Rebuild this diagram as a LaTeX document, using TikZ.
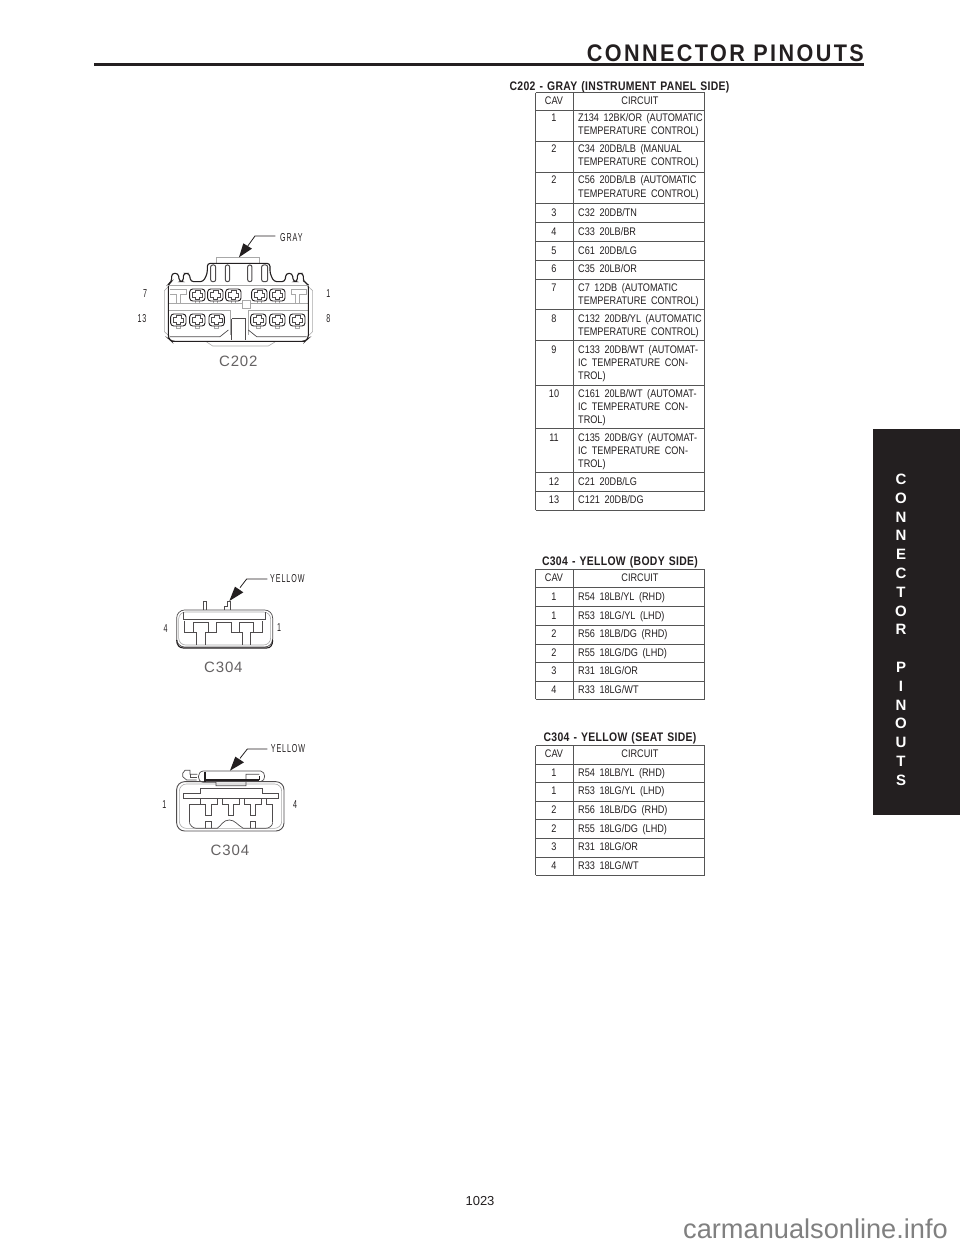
\documentclass[tikz,border=0pt]{standalone}
\usepackage{fontspec}
\setmainfont{Liberation Sans}
\newfontfamily\tblfont[FakeStretch=0.83,WordSpace=1.8]{Liberation Sans}
\newfontfamily\ttlfont[FakeStretch=0.84,LetterSpace=2.5,WordSpace=1.3]{Liberation Sans}
\newfontfamily\lblfont[FakeStretch=0.62,LetterSpace=8]{Liberation Sans}
\newfontfamily\capfont[LetterSpace=6]{Liberation Sans}
\newfontfamily\headfont[FakeStretch=0.9,LetterSpace=10]{Liberation Sans}
\definecolor{ink}{HTML}{231F20}
\definecolor{soft}{HTML}{555555}
\definecolor{pale}{HTML}{A8A8A8}
\tikzset{
 tline/.style={draw=soft,line width=0.9pt},
 ttext/.style={inner sep=0pt,anchor=base west,text=ink,font=\tblfont\fontsize{11}{12}\selectfont},
 tcav/.style={inner sep=0pt,anchor=base,text=ink,font=\tblfont\fontsize{11}{12}\selectfont},
 ttitle/.style={inner sep=0pt,anchor=base,text=ink,font=\ttlfont\bfseries\fontsize{12.4}{14}\selectfont},
 pinlabel/.style={inner sep=0pt,text=ink,font=\lblfont\fontsize{11.5}{12}\selectfont},
 connname/.style={inner sep=0pt,text=ink!70,font=\capfont\fontsize{15}{18}\selectfont},
 tabletter/.style={inner sep=0pt,text=white,font=\bfseries\fontsize{15}{18}\selectfont},
 draft/.style={draw=ink!80,line width=0.7pt},
 heavy/.style={draw=ink,line width=1.1pt},
 light/.style={draw=pale,line width=0.6pt},
 leader/.style={draw=ink,line width=0.8pt},
 tip/.style={fill=ink,draw=none},
 terminal/.pic={
  \draw[draw=pale,line width=0.6pt] (-6,18)--(-6,26)--(6,26)--(6,18);
  \draw[draw=ink,line width=0.9pt,rounded corners=3pt] (-23,-18) rectangle (23,18);
  \draw[draw=ink!80,line width=0.6pt] (-15,8)--(-15,-8)--(-6,-8)--(-6,-13)--(8,-13)--(8,-6)--(16,-6)--(16,8)--(5,8)--(5,13)--(-6,13)--(-6,8)--cycle;
 }
}
\begin{document}
\begin{tikzpicture}[x=1pt,y=-1pt]
\useasboundingbox (0,0) rectangle (960,1242);
\fill[white] (0,0) rectangle (960,1242);
% header
\node[inner sep=0pt,anchor=base east,text=ink,font=\headfont\bfseries\fontsize{24}{26}\selectfont] (head) at (864,61) {CONNECTOR PINOUTS};
\fill[ink] (94,63) rectangle (864,66);
% side tab
\fill[ink] (872.5,428.5) rectangle (960,815);
\foreach \l/\y/\n in {C/479/a,O/498/b,N/517/c,N/535.5/d,E/554/e,C/573/f,T/592/g,O/611/h,R/629.5/i,P/667/j,I/686/k,N/705/l,O/723/m,U/742/n,T/761/o,S/780/p}
  \node[tabletter] (tab\n) at (901,\y) {\l};
% table 1
\node[ttitle] (t1title) at (619.5,90) {C202 - GRAY (INSTRUMENT PANEL SIDE)};
\foreach \y in {92.5,110,141,172.5,203.5,222.5,241,260,279,309.5,340.5,385,428.7,472.7,491.7,510}
  \draw[tline] (535.5,\y) -- (704.5,\y);
\foreach \x in {535.5,573,704.5} \draw[tline] (\x,92.5) -- (\x,510);
\node[tcav] (h1a) at (554,104) {CAV};
\node[tcav] (h1b) at (640,104) {CIRCUIT};
\foreach \c/\y/\n in {1/121/a,2/152.5/b,2/183.5/c,3/216.5/d,4/235/e,5/254/f,6/272.5/g,7/291/h,8/322/i,9/353/j,10/397/k,11/441/l,12/485/m,13/503.5/n}
  \node[tcav] (c1\n) at (554,\y) {\c};
\foreach \y/\s/\n in {
 121/{Z134 12BK/OR (AUTOMATIC}/a,134.5/{TEMPERATURE CONTROL)}/b,
 152.5/{C34 20DB/LB (MANUAL}/c,165.5/{TEMPERATURE CONTROL)}/d,
 183.5/{C56 20DB/LB (AUTOMATIC}/e,197/{TEMPERATURE CONTROL)}/f,
 216.5/{C32 20DB/TN}/g,235/{C33 20LB/BR}/h,254/{C61 20DB/LG}/i,272.5/{C35 20LB/OR}/j,
 291/{C7 12DB (AUTOMATIC}/k,304/{TEMPERATURE CONTROL)}/l,
 322/{C132 20DB/YL (AUTOMATIC}/m,335/{TEMPERATURE CONTROL)}/n,
 353/{C133 20DB/WT (AUTOMAT-}/o,366/{IC TEMPERATURE CON-}/p,379/{TROL)}/q,
 397/{C161 20LB/WT (AUTOMAT-}/r,410/{IC TEMPERATURE CON-}/s,423/{TROL)}/t,
 441/{C135 20DB/GY (AUTOMAT-}/u,454/{IC TEMPERATURE CON-}/v,467/{TROL)}/w,
 485/{C21 20DB/LG}/x,503.5/{C121 20DB/DG}/y}
  \node[ttext] (s1\n) at (578,\y) {\s};
% table 2
\node[ttitle] (t2title) at (620,565) {C304 - YELLOW (BODY SIDE)};
\foreach \y in {569.3,587.3,606,625,644,662.7,681.3,699}
  \draw[tline] (535.5,\y) -- (704.5,\y);
\foreach \x in {535.5,573,704.5} \draw[tline] (\x,569.3) -- (\x,699);
\node[tcav] (h2a) at (554,581) {CAV};
\node[tcav] (h2b) at (640,581) {CIRCUIT};
\foreach \c/\y/\s/\n in {1/600/{R54 18LB/YL (RHD)}/a,1/619/{R53 18LG/YL (LHD)}/b,2/637.5/{R56 18LB/DG (RHD)}/c,2/656/{R55 18LG/DG (LHD)}/d,3/674.5/{R31 18LG/OR}/e,4/693/{R33 18LG/WT}/f}{
  \node[tcav] (c2\n) at (554,\y) {\c};
  \node[ttext] (s2\n) at (578,\y) {\s};}
% table 3
\node[ttitle] (t3title) at (620,741) {C304 - YELLOW (SEAT SIDE)};
\foreach \y in {745.5,764,782,801,819.5,838,857,875}
  \draw[tline] (535.5,\y) -- (704.5,\y);
\foreach \x in {535.5,573,704.5} \draw[tline] (\x,745.5) -- (\x,875);
\node[tcav] (h3a) at (554,757) {CAV};
\node[tcav] (h3b) at (640,757) {CIRCUIT};
\foreach \c/\y/\s/\n in {1/776/{R54 18LB/YL (RHD)}/a,1/794.5/{R53 18LG/YL (LHD)}/b,2/813/{R56 18LB/DG (RHD)}/c,2/832/{R55 18LG/DG (LHD)}/d,3/850.5/{R31 18LG/OR}/e,4/869.5/{R33 18LG/WT}/f}{
  \node[tcav] (c3\n) at (554,\y) {\c};
  \node[ttext] (s3\n) at (578,\y) {\s};}
% C202
\begin{scope}[shift={(120,220)},x=0.3333pt,y=-0.3333pt]
 \draw[light] (145,200)--(133,212)--(133,335)--(148,348);
 \draw[light] (565,200)--(578,212)--(578,335)--(565,348);
 \draw[light] (290,130)--(290,112)--(418,112)--(418,130);
 \draw[light] (260,366)--(278,378)--(445,378)--(465,366);
 \draw[light] (145,250)--(365,250);\draw[light] (390,250)--(565,250);
 \draw[light] (145,270)--(330,270)--(330,345);\draw[light] (565,270)--(385,270)--(385,345);
 \draw[light] (366,240) rectangle (390,266);
 \draw[light] (150,208)--(198,208)--(198,222)--(182,222)--(182,250)--(170,250)--(170,222)--(150,222);
 \draw[light] (515,208)--(560,208)--(560,222)--(538,222)--(538,250)--(526,250)--(526,222)--(515,222)--cycle;
 \draw[heavy,rounded corners=3pt] (145,355)--(145,192)--(155,185)--(155,160)--(175,160)--(178,185)--(190,185)--(190,160)--(208,160)--(212,185)--(250,185)--(262,160)--(262,130)--(450,130)--(450,160)--(462,185)--(495,185)--(498,160)--(517,160)--(520,185)--(532,185)--(532,160)--(550,160)--(550,185)--(565,192)--(565,355)--(555,364)--(155,364)--cycle;
 \draw[draw=ink,line width=1.5pt] (155,365)--(555,365);
 \draw[draft] (150,350)--(300,350)--(325,330);
 \draw[draft] (560,350)--(410,350)--(385,330);
 \draw[light] (145,195)--(565,195);
 \foreach \x/\w in {272/15,316/13,383/13,425/18} \draw[draft,line width=1pt,rounded corners=2pt] (\x,185)--(\x,135)--(\x+\w,135)--(\x+\w,185)--cycle;
 \draw[draft] (335,296)--(375,296)--(375,360);\draw[draft] (335,296)--(335,360);
 \foreach \x/\n in {232/a,286/b,340/c,418/d,472/e} \pic (up\n) at (\x,225) {terminal};
 \foreach \x/\n in {175/a,232/b,290/c,415/d,472/e,532/f} \pic (lo\n) at (\x,300) {terminal};
 \node[pinlabel] (p7) at (75,220) {7};
 \node[pinlabel] (p1) at (625,220) {1};
 \node[pinlabel] (p13) at (66,295) {13};
 \node[pinlabel] (p8) at (625,297) {8};
 \node[pinlabel,anchor=west] (gray) at (480,52) {GRAY};
 \node[connname] (c202) at (355,423) {C202};
 \coordinate (graytip) at (357,112);
 \draw[leader] (gray.west)+(-14,-4) -- (405,48) -- (382,80);
 \fill[tip] (graytip)--(370,70)--(396,86)--cycle;
\end{scope}
% C304 body side
\begin{scope}[shift={(140,565)},x=0.3333pt,y=-0.3333pt]
 \draw[draft,rounded corners=8pt] (110,135) rectangle (398,246);
 \draw[heavy] (110,225)..controls (110,240) and (118,249)..(130,249)--(380,249)..controls (392,249) and (398,240)..(398,225);
 \draw[light,rounded corners=7pt] (116,141) rectangle (392,240);
 \draw[draft] (130,142)--(130,162)--(375,162)--(375,142);
 \draw[draft] (132,167)--(132,203)--(160,203)--(160,173)--(205,173)--(205,203)--(195,203)--(195,240);
 \draw[draft] (160,203)--(170,203)--(170,240);
 \draw[draft] (205,203)--(230,203)--(230,173)--(275,173)--(275,203)--(298,203)--(298,173)--(340,173)--(340,203)--(330,203)--(330,240);
 \draw[draft] (298,203)--(308,203)--(308,240);
 \draw[draft] (340,203)--(368,203)--(368,167);
 \draw[draft] (190,135)--(190,108)--(200,108)--(200,135);
 \draw[draft] (253,135)--(253,125)--(262,125)--(262,110)--(272,110)--(272,135);
 \node[pinlabel] (q4) at (77,190) {4};
 \node[pinlabel] (q1) at (417,187) {1};
 \node[pinlabel,anchor=west] (yb) at (390,40) {YELLOW};
 \node[connname] (c304a) at (250,307) {C304};
 \coordinate (ybtip) at (268,108);
 \draw[leader] (yb.west)+(-8,2) -- (320,42) -- (300,68);
 \fill[tip] (ybtip)--(285,65)--(310,82)--cycle;
\end{scope}
% C304 seat side
\begin{scope}[shift={(140,735)},x=0.3333pt,y=-0.3333pt]
 \draw[draft,line width=0.9pt,rounded corners=8pt] (110,140) rectangle (432,288);
 \draw[light,rounded corners=7pt] (118,147) rectangle (425,280);
 \draw[draft] (131,175)--(181,175)--(181,160)--(366,160)--(366,175)--(416,175)--(416,190)--(131,190)--cycle;
 \draw[draft] (148,262)--(148,208)--(180,208)--(180,192);
 \draw[draft] (180,208)--(197,208)--(197,242)--(213,242)--(213,208)--(232,208)--(232,192);
 \draw[draft] (248,192)--(248,208)--(265,208)--(265,242)--(281,242)--(281,208)--(298,208)--(298,192);
 \draw[draft] (314,192)--(314,208)--(331,208)--(331,242)--(347,242)--(347,208)--(364,208)--(364,192);
 \draw[draft] (380,192)--(380,208)--(398,208)--(398,262);
 \draw[draft] (148,262)..controls (150,272) and (160,280)..(170,280)--(232,280)..controls (245,270) and (250,255)..(268,255)..controls (285,255) and (292,270)..(310,280)--(376,280)..controls (388,280) and (398,272)..(398,262);
 \draw[draft] (197,280)--(197,260)--(213,260)--(213,280);
 \draw[draft] (331,280)--(331,260)--(347,260)--(347,280);
 \draw[draft] (190,108)--(362,108)..controls (378,110) and (378,138)..(362,140);
 \draw[draft] (190,108)..controls (170,110) and (170,140)..(190,142)--(228,142)--(228,152)--(318,152)--(318,118)--(358,118);
 \draw[draft] (172,118)--(150,118)--(150,106)--(135,106)--(128,115)--(128,125)--(140,135)--(170,135);
 \draw[draft] (150,118)--(150,128)--(170,128);
 \draw[heavy,line width=2pt] (196,110)--(196,142);
 \draw[heavy,line width=2pt] (196,136)--(358,136);
 \draw[heavy] (358,136)--(358,122);
 \node[pinlabel] (r1) at (73,210) {1};
 \node[pinlabel] (r4) at (465,210) {4};
 \node[pinlabel,anchor=west] (ys) at (392,40) {YELLOW};
 \node[connname] (c304b) at (270,345) {C304};
 \coordinate (ystip) at (270,107);
 \draw[leader] (ys.west)+(-10,2) -- (322,42) -- (300,70);
 \fill[tip] (ystip)--(286,65)--(312,82)--cycle;
\end{scope}
% footer
\node[inner sep=0pt,text=ink,font=\fontsize{13}{15}\selectfont] (page) at (480,1201) {1023};
\node[inner sep=0pt,anchor=base east,text=black!50,font=\fontsize{27.2}{30}\selectfont] (site) at (948,1238) {carmanualsonline.info};
\end{tikzpicture}
\end{document}
